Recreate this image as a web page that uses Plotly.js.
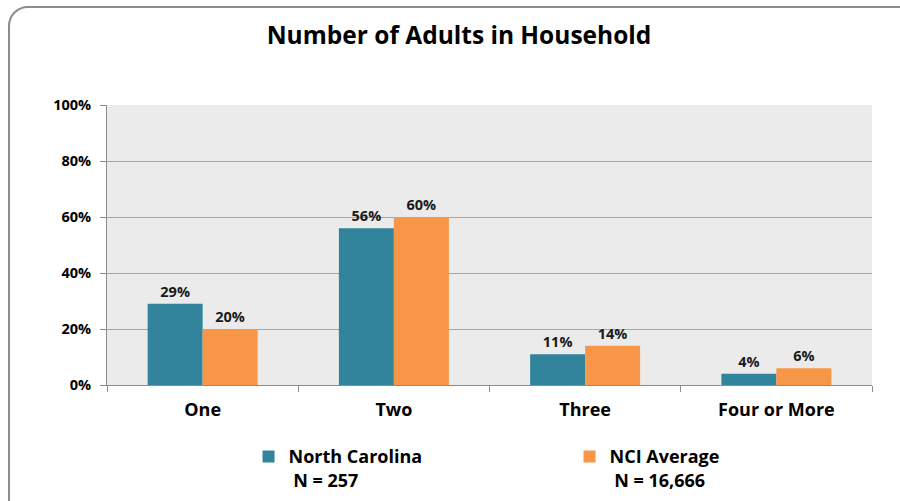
<!DOCTYPE html>
<html>
<head>
<meta charset="utf-8">
<script src="https://cdn.plot.ly/plotly-3.0.1.min.js"></script>
<style>
  html, body { margin: 0; padding: 0; background: #fff; }
  #wrap { position: relative; width: 900px; height: 501px; overflow: hidden; }
  #chart { position: absolute; left: 0; top: 0; width: 900px; height: 501px; }
  #frame { position: absolute; left: 8px; top: 6px; width: 910px; height: 520px;
           border: 2px solid #8c8c8c; border-radius: 20px; pointer-events: none; box-sizing: border-box; }
</style>
</head>
<body>
<div id="wrap">
  <div id="chart"></div>
  <div id="frame"></div>
</div>
<script>
const categories = ["One", "Two", "Three", "Four or More"];
const ncValues = [29, 56, 11, 4];
const nciValues = [20, 60, 14, 6];
const ncName = "North Carolina<br>&nbsp;N = 257";
const nciName = "NCI Average<br>&nbsp;N = 16,666";
const yTicks = [0, 20, 40, 60, 80, 100];
const yTickText = ["0%", "20%", "40%", "60%", "80%", "100%"];

const FONT = "'Open Sans', sans-serif";

const traces = [
  {
    type: "bar", name: ncName, x: categories, y: ncValues,
    marker: { color: "#31849B" },
    text: ncValues.map(v => v + "%"),
    textposition: "outside", cliponaxis: false,
    textfont: { family: FONT, size: 14.5, color: "#1a1a1a", weight: "bold" },
    hoverinfo: "none"
  },
  {
    type: "bar", name: nciName, x: categories, y: nciValues,
    marker: { color: "#F79646" },
    text: nciValues.map(v => v + "%"),
    textposition: "outside", cliponaxis: false,
    textfont: { family: FONT, size: 14.5, color: "#1a1a1a", weight: "bold" },
    hoverinfo: "none"
  }
];

const layout = {
  width: 900, height: 501,
  paper_bgcolor: "rgba(0,0,0,0)",
  plot_bgcolor: "#EBEBEB",
  margin: { l: 107, r: 28, t: 105, b: 116, autoexpand: false },
  font: { family: FONT, color: "#000" },
  title: {
    text: "Number of Adults in Household",
    font: { family: FONT, size: 24.5, color: "#000", weight: "bold" },
    x: 0.51, xanchor: "center", xref: "container",
    y: 0.93, yanchor: "middle", yref: "container"
  },
  barmode: "group",
  bargap: 0.425,
  bargroupgap: 0,
  showlegend: true,
  legend: {
    orientation: "h",
    x: 0.185, xanchor: "left",
    y: -0.19, yanchor: "top",
    valign: "top",
    entrywidth: 276,
    font: { family: FONT, size: 18, color: "#000", weight: "bold" },
    traceorder: "normal"
  },
  xaxis: {
    type: "category",
    showline: true, linecolor: "#8c8c8c", linewidth: 1,
    ticks: "outside", tickson: "boundaries", ticklen: 6, tickcolor: "#8c8c8c",
    tickfont: { family: FONT, size: 18, color: "#000", weight: "bold" },
    ticklabelstandoff: 8,
    showgrid: false
  },
  yaxis: {
    range: [0, 100],
    tickvals: yTicks, ticktext: yTickText,
    showline: true, linecolor: "#8c8c8c", linewidth: 1,
    ticks: "outside", ticklen: 6, tickcolor: "#8c8c8c",
    ticklabelstandoff: 6,
    showgrid: true, gridcolor: "#A6A6A6", gridwidth: 1,
    zeroline: false,
    tickfont: { family: FONT, size: 14.5, color: "#000", weight: "bold" }
  }
};

Plotly.newPlot("chart", traces, layout, { displayModeBar: false, staticPlot: true });
</script>
</body>
</html>
